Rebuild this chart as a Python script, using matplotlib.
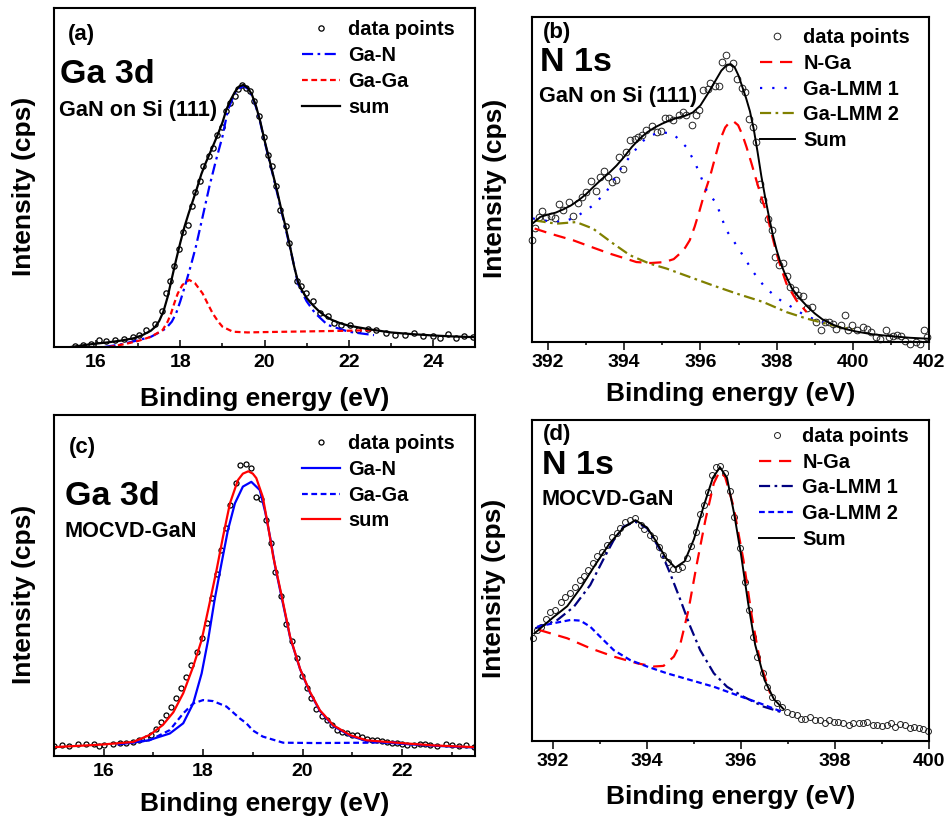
import matplotlib
matplotlib.use('Agg')
import matplotlib.pyplot as plt
from matplotlib.ticker import MultipleLocator

# intensity values are in arbitrary units (0-100 = height of each plot box)

# ---------------- (a) Ga 3d, GaN on Si (111) ----------------
a_pts_x = [15.49, 15.68, 15.88, 16.06, 16.24, 16.44, 16.67, 16.87, 17.03, 17.19, 17.39, 17.57, 17.65,
           17.76, 17.85, 17.96, 18.06, 18.18, 18.28, 18.36, 18.46, 18.55, 18.68, 18.77, 18.87, 19.0,
           19.09, 19.17, 19.29, 19.37, 19.47, 19.56, 19.66, 19.76, 19.88, 19.98, 20.08, 20.18, 20.28,
           20.38, 20.5, 20.59, 20.77, 20.87, 20.99, 21.15, 21.31, 21.5, 21.66, 21.82, 22.02, 22.22,
           22.46, 22.65, 22.89, 23.09, 23.33, 23.56, 23.76, 24.0, 24.16, 24.36, 24.56, 24.75, 24.95]
a_pts_y = [0.2, 0.5, 1.0, 2.2, 1.7, 2.0, 2.4, 3.0, 3.6, 5.1, 6.9, 10.5, 16.0,
           19.4, 24.0, 29.0, 34.0, 36.0, 41.5, 45.6, 48.9, 53.3, 56.2, 58.7, 62.6, 65.0,
           69.5, 72.0, 74.0, 76.0, 77.4, 76.4, 75.4, 72.5, 68.0, 62.0, 56.7, 53.3, 47.4,
           40.5, 35.6, 30.7, 19.4, 17.9, 16.0, 13.5, 10.0, 9.0, 7.0, 6.6, 6.6, 5.1,
           5.4, 4.9, 4.1, 3.6, 3.6, 4.1, 3.1, 3.3, 2.7, 3.8, 2.7, 3.3, 3.0]
a_gan_x = [16.2, 16.6, 17.0, 17.3, 17.5, 17.66, 17.8, 17.9, 18.0, 18.13, 18.25, 18.37, 18.53, 18.69,
           18.85, 19.0, 19.13, 19.29, 19.4, 19.5, 19.6, 19.7, 19.8, 19.9, 20.0, 20.2, 20.4, 20.6,
           20.8, 21.0, 21.2, 21.5, 22.0, 22.6]
a_gan_y = [0.0, 0.8, 2.0, 3.0, 4.3, 5.5, 7.5, 9.9, 13.5, 18.8, 24.0, 29.6, 38.4, 47.3,
           55.2, 62.0, 69.9, 74.8, 76.3, 77.0, 76.2, 74.2, 70.7, 66.2, 60.7, 50.7, 40.2, 29.7,
           18.5, 13.5, 10.0, 6.5, 4.5, 3.5]
a_gaga_x = [16.3, 16.7, 17.0, 17.3, 17.58, 17.7, 17.78, 17.86, 17.94, 18.05, 18.21, 18.35, 18.53,
            18.65, 18.77, 18.9, 19.0, 19.25, 19.6, 20.0, 20.5, 21.0, 21.5, 22.0, 22.65]
a_gaga_y = [0.0, 0.9, 1.8, 3.0, 5.0, 7.5, 9.9, 13.0, 15.8, 18.3, 19.8, 18.8, 15.8,
            12.8, 9.9, 7.5, 6.0, 4.5, 4.3, 4.4, 4.5, 4.6, 4.7, 4.8, 5.0]
a_sum_x = [15.4, 15.8, 16.0, 16.3, 16.6, 16.9, 17.1, 17.3, 17.4, 17.5, 17.6, 17.7, 17.8, 17.9, 18.0,
           18.1, 18.2, 18.3, 18.4, 18.5, 18.6, 18.7, 18.8, 18.9, 19.0, 19.1, 19.2, 19.3, 19.4, 19.5,
           19.6, 19.7, 19.8, 19.9, 20.0, 20.1, 20.2, 20.3, 20.4, 20.5, 20.6, 20.7, 20.8, 20.9, 21.0,
           21.1, 21.2, 21.3, 21.4, 21.6, 21.8, 22.0, 22.5, 23.0, 23.5, 24.0, 24.5, 25.0]
a_sum_y = [0.0, 0.7, 1.0, 1.4, 1.9, 2.6, 3.5, 4.8, 5.9, 7.7, 10.5, 14.8, 20.3, 25.7, 30.8,
           35.5, 39.5, 43.2, 47.0, 51.0, 54.2, 57.1, 60.0, 63.0, 66.2, 70.2, 73.0, 75.3, 76.9, 77.3,
           76.5, 74.5, 71.0, 66.5, 61.0, 56.0, 51.0, 46.0, 40.5, 35.5, 30.0, 24.0, 19.0, 16.5, 14.5,
           13.0, 11.7, 10.5, 9.5, 8.0, 7.0, 6.3, 5.2, 4.3, 3.8, 3.4, 3.1, 2.9]

# ---------------- (b) N 1s, GaN on Si (111) ----------------
b_pts_x = [391.58, 391.65, 391.76, 391.85, 391.96, 392.07, 392.18, 392.28, 392.39, 392.55, 392.66,
           392.79, 392.9, 393.0, 393.14, 393.27, 393.36, 393.46, 393.58, 393.69, 393.78, 393.87,
           393.97, 394.04, 394.16, 394.28, 394.36, 394.48, 394.58, 394.74, 394.85, 394.96, 395.06,
           395.18, 395.28, 395.44, 395.55, 395.63, 395.77, 395.88, 395.97, 396.07, 396.19, 396.25,
           396.38, 396.49, 396.58, 396.67, 396.76, 396.86, 396.95, 397.08, 397.17, 397.28, 397.37,
           397.46, 397.56, 397.65, 397.78, 397.87, 397.95, 398.07, 398.16, 398.26, 398.35, 398.48,
           398.57, 398.68, 398.79, 398.92, 399.03, 399.16, 399.27, 399.38, 399.47, 399.57, 399.68,
           399.79, 399.88, 399.99, 400.1, 400.26, 400.36, 400.49, 400.61, 400.71, 400.87, 400.96,
           401.06, 401.15, 401.26, 401.37, 401.5, 401.66, 401.76, 401.87, 401.94]
b_pts_y = [31.5, 35.0, 38.5, 40.2, 38.5, 38.7, 38.0, 42.4, 40.7, 43.0, 38.7,
           42.8, 44.6, 46.2, 49.4, 46.4, 50.8, 52.6, 50.8, 49.2, 49.7, 56.9,
           53.3, 58.5, 62.3, 62.6, 63.1, 63.6, 65.1, 66.4, 64.6, 64.9, 69.0,
           69.0, 68.2, 69.7, 70.8, 69.7, 66.7, 69.7, 71.3, 77.4, 77.9, 79.7,
           78.7, 78.7, 86.2, 88.2, 84.3, 85.8, 81.0, 78.3, 76.9, 68.7, 66.0,
           61.5, 48.5, 43.8, 37.9, 34.4, 26.2, 23.6, 24.3, 20.2, 16.9, 15.9,
           14.4, 14.1, 10.6, 10.8, 6.2, 3.6, 6.2, 6.2, 5.4, 4.1, 5.1,
           8.2, 3.8, 5.1, 3.6, 4.6, 4.1, 3.1, 1.5, 1.0, 3.6, 1.5,
           1.7, 2.1, 1.7, 0.3, -0.5, 0.0, -0.5, 3.6, 1.5]
b_nga_x = [391.65, 392.1, 392.66, 393.1, 393.62, 394.0, 394.32, 394.7, 395.06, 395.3, 395.46, 395.6,
           395.72, 395.85, 395.98, 396.1, 396.25, 396.38, 396.51, 396.65, 396.77, 396.88, 396.99,
           397.1, 397.21, 397.34, 397.47, 397.6, 397.74, 397.87, 398.0, 398.13, 398.26, 398.52, 398.79]
b_nga_y = [34.9, 33.2, 31.3, 29.4, 27.2, 25.8, 24.6, 24.3, 24.6, 25.5, 27.2, 29.0,
           31.3, 35.5, 40.5, 45.5, 50.8, 56.5, 62.0, 66.0, 67.7, 67.8, 66.7,
           63.8, 60.0, 55.0, 49.7, 44.6, 39.5, 33.3, 27.2, 22.3, 17.9, 12.8, 9.2]
b_lmm1_x = [391.6, 392.0, 392.39, 392.74, 393.18, 393.53, 393.97, 394.32, 394.58, 394.93, 395.28,
            395.63, 395.85, 396.16, 396.42, 396.68, 396.95, 397.17, 397.39, 397.69, 398.04, 398.39,
            398.74, 399.05, 399.5, 400.0]
b_lmm1_y = [38.0, 37.2, 36.9, 38.5, 42.0, 46.2, 54.4, 59.5, 62.9, 64.6, 64.1,
            60.0, 55.4, 46.7, 42.6, 34.4, 29.7, 25.6, 21.5, 16.9, 13.3, 10.8,
            8.2, 6.7, 5.0, 3.8]
b_lmm2_x = [391.65, 392.22, 392.74, 393.18, 393.71, 394.15, 394.67, 395.11, 395.72, 396.33, 396.95,
            397.65, 398.26, 398.79, 399.31, 399.66, 400.0]
b_lmm2_y = [37.4, 36.4, 36.9, 34.9, 30.3, 26.7, 24.1, 22.6, 20.0, 17.4, 14.9,
            12.3, 9.2, 7.2, 5.6, 4.6, 3.9]
b_sum_x = [391.6, 391.8, 392.0, 392.2, 392.4, 392.6, 392.8, 393.0, 393.2, 393.4, 393.6, 393.8, 394.0,
           394.2, 394.4, 394.6, 394.8, 395.0, 395.2, 395.4, 395.6, 395.8, 396.0, 396.2, 396.4, 396.55,
           396.7, 396.8, 396.9, 397.0, 397.1, 397.2, 397.3, 397.4, 397.5, 397.6, 397.7, 397.8, 397.9,
           398.0, 398.1, 398.2, 398.4, 398.6, 398.8, 399.0, 399.2, 399.5, 399.8, 400.1, 400.5, 401.0,
           401.5, 402.0]
b_sum_y = [36.5, 38.5, 39.2, 39.8, 40.8, 42.0, 43.6, 45.5, 47.8, 50.0, 52.0, 54.3, 57.0,
           60.0, 62.5, 64.5, 66.0, 67.2, 68.2, 69.0, 69.6, 70.6, 72.8, 76.5, 80.5, 83.5,
           85.3, 85.5, 84.5, 82.0, 78.5, 75.0, 71.0, 65.5, 58.5, 51.0, 44.5, 38.5, 33.0,
           28.3, 24.5, 21.5, 16.5, 13.5, 11.0, 8.8, 7.0, 5.2, 4.0, 3.2, 2.4, 1.8,
           1.3, 1.0]

# ---------------- (c) Ga 3d, MOCVD-GaN ----------------
c_pts_x = [15.0, 15.17, 15.31, 15.48, 15.64, 15.81, 15.91, 16.01, 16.18, 16.32, 16.45, 16.59, 16.72,
           16.85, 16.96, 17.06, 17.16, 17.26, 17.36, 17.46, 17.56, 17.65, 17.76, 17.87, 17.97, 18.07,
           18.17, 18.27, 18.35, 18.46, 18.55, 18.67, 18.74, 18.87, 18.97, 19.07, 19.16, 19.26, 19.36,
           19.44, 19.56, 19.66, 19.78, 19.88, 19.98, 20.08, 20.18, 20.28, 20.39, 20.49, 20.59, 20.69,
           20.79, 20.89, 20.99, 21.09, 21.19, 21.29, 21.39, 21.5, 21.6, 21.7, 21.8, 21.9, 22.0, 22.1,
           22.24, 22.37, 22.47, 22.57, 22.71, 22.88, 23.01, 23.14, 23.28, 23.45]
c_pts_y = [2.8, 3.1, 3.0, 3.6, 3.6, 3.4, 2.8, 3.3, 3.6, 3.8, 3.9, 4.2, 4.8,
           5.3, 6.1, 8.0, 10.1, 12.0, 14.5, 16.9, 19.8, 23.1, 26.7, 30.6, 34.6, 38.9,
           46.2, 53.4, 60.4, 67.0, 73.6, 80.0, 85.3, 85.6, 84.4, 76.0, 75.5, 69.2, 62.5,
           54.0, 46.9, 38.8, 33.7, 28.6, 23.4, 19.8, 17.1, 13.9, 11.6, 10.5, 9.2, 7.7,
           7.0, 6.8, 6.1, 6.1, 5.6, 5.1, 4.8, 4.6, 4.3, 4.1, 3.8, 3.9, 3.6, 3.3,
           3.1, 3.4, 3.6, 3.1, 2.8, 3.6, 3.1, 2.8, 3.1, 2.6]
c_gan_x = [16.3, 16.9, 17.33, 17.6, 17.8, 17.97, 18.1, 18.23, 18.37, 18.5, 18.64, 18.8, 18.97,
           19.14, 19.25, 19.35, 19.45, 19.58, 19.75, 19.95, 20.15, 20.35, 20.62, 20.96, 21.29,
           21.97, 22.64, 23.45]
c_gan_y = [3.4, 4.6, 6.6, 9.6, 15.4, 24.2, 34.0, 45.7, 56.5, 66.3, 74.1, 79.0, 80.4,
           78.0, 71.5, 64.0, 55.5, 46.5, 34.8, 25.5, 18.6, 13.2, 8.8, 5.9, 4.4,
           3.6, 3.0, 2.5]
c_gaga_x = [16.52, 16.92, 17.33, 17.6, 17.8, 18.0, 18.2, 18.47, 18.74, 18.87, 19.0, 19.2, 19.61,
            20.28, 21.29, 21.97]
c_gaga_y = [3.8, 4.6, 7.6, 12.5, 15.4, 16.4, 16.1, 14.5, 11.0, 9.6, 7.5, 5.7, 3.9,
            3.8, 3.9, 4.1]
c_sum_x = [15.0, 15.91, 16.59, 16.93, 17.19, 17.4, 17.6, 17.8, 17.97, 18.13, 18.27, 18.4, 18.54,
           18.7, 18.8, 18.91, 19.0, 19.07, 19.2, 19.3, 19.41, 19.58, 19.75, 19.95, 20.15, 20.35,
           20.62, 20.96, 21.29, 21.97, 22.64, 23.45]
c_sum_y = [2.6, 3.3, 4.1, 6.2, 9.1, 12.8, 18.4, 26.2, 34.0, 44.8, 54.5, 64.3, 74.1,
           80.9, 82.8, 83.5, 82.8, 81.5, 76.0, 68.0, 58.5, 47.0, 35.0, 25.6, 18.8, 13.4,
           9.0, 6.1, 4.6, 3.8, 3.1, 2.6]

# ---------------- (d) N 1s, MOCVD-GaN ----------------
d_pts_x = [391.57, 391.65, 391.75, 391.84, 391.94, 392.05, 392.16, 392.25, 392.35, 392.46, 392.57,
           392.65, 392.74, 392.84, 392.94, 393.04, 393.15, 393.25, 393.35, 393.43, 393.54, 393.64,
           393.75, 393.86, 393.94, 394.06, 394.15, 394.25, 394.34, 394.45, 394.55, 394.65, 394.74,
           394.85, 394.94, 395.05, 395.13, 395.22, 395.3, 395.39, 395.47, 395.56, 395.65, 395.76,
           395.86, 395.97, 396.08, 396.16, 396.25, 396.34, 396.46, 396.55, 396.66, 396.76, 396.87,
           396.98, 397.08, 397.19, 397.27, 397.36, 397.47, 397.58, 397.68, 397.79, 397.88, 397.98,
           398.07, 398.18, 398.29, 398.39, 398.5, 398.59, 398.69, 398.8, 398.89, 398.99, 399.1,
           399.19, 399.28, 399.38, 399.49, 399.6, 399.68, 399.79, 399.88, 399.97]
d_pts_y = [32.0, 34.6, 35.6, 37.9, 40.3, 40.8, 43.4, 45.0, 46.0, 48.1, 50.2,
           51.4, 53.3, 55.3, 57.7, 59.0, 61.1, 63.7, 64.9, 66.3, 68.3, 68.8,
           69.4, 67.3, 66.0, 64.2, 63.1, 60.5, 57.9, 55.9, 53.5, 53.5, 54.3,
           56.9, 60.7, 65.2, 70.7, 73.5, 77.7, 82.9, 85.3, 85.7, 83.4, 78.0,
           69.9, 60.0, 49.6, 40.8, 32.5, 26.3, 21.1, 16.9, 13.8, 11.7, 10.7,
           9.1, 8.4, 8.1, 6.7, 6.7, 7.6, 6.5, 6.5, 5.7, 6.5, 6.0,
           6.0, 5.7, 5.0, 5.5, 5.5, 5.5, 6.0, 5.0, 5.0, 4.7, 5.0,
           5.5, 4.5, 5.3, 5.0, 4.2, 4.5, 4.2, 3.6, 3.1]
d_nga_x = [391.7, 392.3, 392.79, 393.29, 393.79, 394.14, 394.35, 394.57, 394.71, 394.88, 395.06,
           395.24, 395.42, 395.54, 395.66, 395.84, 396.05, 396.23, 396.41, 396.62]
d_nga_y = [34.6, 32.0, 28.9, 26.3, 24.2, 23.2, 23.4, 26.3, 30.4, 40.8, 55.3,
           68.8, 80.3, 83.9, 82.3, 73.0, 56.4, 38.7, 24.2, 14.8]
d_lmm1_x = [391.62, 392.09, 392.44, 392.79, 393.08, 393.29, 393.5, 393.75, 394.0, 394.28, 394.49,
            394.71, 394.92, 395.13, 395.42, 395.7, 396.05, 396.48, 396.83]
d_lmm1_y = [35.1, 37.7, 41.8, 48.6, 56.9, 62.6, 66.8, 68.3, 66.3, 59.5, 52.2,
            43.9, 35.6, 28.3, 21.1, 16.9, 13.8, 10.7, 9.1]
d_lmm2_x = [391.66, 392.01, 392.37, 392.58, 392.79, 393.0, 393.29, 393.64, 394.0, 394.42, 394.92,
            395.42, 395.91, 396.41, 396.87]
d_lmm2_y = [35.6, 36.7, 37.7, 37.5, 35.6, 32.5, 28.3, 25.2, 23.2, 21.1, 19.0,
            16.9, 14.3, 11.7, 9.1]
d_sum_x = [391.6, 391.8, 392.0, 392.3, 392.6, 392.9, 393.2, 393.5, 393.75, 394.0, 394.2, 394.4,
           394.6, 394.8, 395.0, 395.2, 395.4, 395.55, 395.7, 395.85, 396.0, 396.15, 396.3, 396.5,
           396.7, 396.9]
d_sum_y = [33.5, 36.0, 38.5, 42.0, 48.0, 55.0, 61.5, 66.5, 68.8, 66.5, 62.0, 57.0,
           54.0, 56.0, 63.0, 73.0, 82.0, 85.3, 82.0, 71.0, 58.0, 43.0, 30.0, 19.0,
           13.0, 10.0]

plt.rcParams['font.family'] = ['Liberation Sans', 'DejaVu Sans']
plt.rcParams['font.weight'] = 'bold'
plt.rcParams['axes.labelweight'] = 'bold'

W, H = 947, 822
fig = plt.figure(figsize=(W / 100, H / 100), dpi=100)


def make_axes(l, r, t, b):
  return fig.add_axes([l / W, 1 - b / H, (r - l) / W, (b - t) / H])


def style(ax, xlim, tickdir, xlab_y, ylab_x, ylab_y):
  ax.set_xlim(*xlim)
  ax.set_ylim(0, 100)
  ax.set_yticks([])
  ax.xaxis.set_major_locator(MultipleLocator(2))
  ax.xaxis.set_minor_locator(MultipleLocator(1))
  for s in ax.spines.values():
    s.set_linewidth(1.5)
  if tickdir == 'in':
    ax.tick_params(axis='x', which='major', direction='in', length=5, width=1.1, pad=5, labelsize=14)
    ax.tick_params(axis='x', which='minor', direction='in', length=3, width=1.1)
  else:
    ax.tick_params(axis='x', which='major', direction='out', length=6, width=1.1, pad=2.5, labelsize=14)
    ax.tick_params(axis='x', which='minor', direction='out', length=2.5, width=1.1)
  ax.set_xlabel('Binding energy (eV)', fontsize=19)
  ax.xaxis.set_label_coords(0.5, xlab_y)
  ax.set_ylabel('Intensity (cps)', fontsize=19)
  ax.yaxis.set_label_coords(ylab_x, ylab_y)


def legend(ax, x, y, hl):
  ax.legend(loc='upper left', bbox_to_anchor=(x, y), frameon=False, fontsize=14.4, numpoints=1,
            handlelength=hl, handletextpad=0.42, labelspacing=0.34, borderpad=0, borderaxespad=0)


# ---- (a)
ax = make_axes(54, 475, 8, 347)
ax.plot(a_pts_x, a_pts_y, 'o', ls='none', ms=3.8, mfc='none', mec='black', mew=0.9, label='data points')
ax.plot(a_gan_x, a_gan_y, color='#0000ff', lw=1.6, ls=(0, (5, 2, 1.2, 2)), label='Ga-N')
ax.plot(a_gaga_x, a_gaga_y, color='#ff0000', lw=1.6, ls=(0, (2.6, 1.6)), label='Ga-Ga')
ax.plot(a_sum_x, a_sum_y, color='black', lw=1.6, label='sum')
style(ax, (15, 25), 'in', -0.118, -0.043, 0.475)
legend(ax, 0.589, 0.964, 1.9)
ax.text(0.033, 0.923, '(a)', transform=ax.transAxes, fontsize=16, va='center')
ax.text(0.014, 0.779, 'Ga 3d', transform=ax.transAxes, fontsize=24.5, va='baseline')
ax.text(0.012, 0.681, 'GaN on Si (111)', transform=ax.transAxes, fontsize=15.6, va='baseline')

# ---- (b)
ax = make_axes(532, 929, 17, 342)
ax.plot(b_pts_x, b_pts_y, 'o', ls='none', ms=4.8, mfc='none', mec='#222222', mew=0.7,
        label='data points', clip_on=False)
ax.plot(b_nga_x, b_nga_y, color='#ff0000', lw=1.6, ls=(0, (5.5, 3.5)), label='N-Ga')
ax.plot(b_lmm1_x, b_lmm1_y, color='#0000ff', lw=1.6, ls=(0, (1, 4.5)), label='Ga-LMM 1')
ax.plot(b_lmm2_x, b_lmm2_y, color='#808000', lw=1.6, ls=(0, (5, 2, 1.2, 2)), label='Ga-LMM 2')
ax.plot(b_sum_x, b_sum_y, color='black', lw=1.4, label='Sum')
style(ax, (391.58, 402), 'out', -0.123, -0.063, 0.474)
legend(ax, 0.574, 0.966, 1.75)
ax.text(0.028, 0.952, '(b)', transform=ax.transAxes, fontsize=16, va='center')
ax.text(0.02, 0.834, 'N 1s', transform=ax.transAxes, fontsize=24.5, va='baseline')
ax.text(0.018, 0.738, 'GaN on Si (111)', transform=ax.transAxes, fontsize=15.6, va='baseline')

# ---- (c)
ax = make_axes(54, 475, 415, 756)
ax.plot(c_pts_x, c_pts_y, 'o', ls='none', ms=3.6, mfc='none', mec='black', mew=0.9, label='data points')
ax.plot(c_gan_x, c_gan_y, color='#0000ff', lw=1.6, label='Ga-N')
ax.plot(c_gaga_x, c_gaga_y, color='#0000ff', lw=1.6, ls=(0, (2.6, 1.6)), label='Ga-Ga')
ax.plot(c_sum_x, c_sum_y, color='#ff0000', lw=1.6, label='sum')
style(ax, (15, 23.47), 'in', -0.106, -0.043, 0.475)
legend(ax, 0.589, 0.944, 1.9)
ax.text(0.036, 0.906, '(c)', transform=ax.transAxes, fontsize=16, va='center')
ax.text(0.026, 0.736, 'Ga 3d', transform=ax.transAxes, fontsize=24.5, va='baseline')
ax.text(0.026, 0.642, 'MOCVD-GaN', transform=ax.transAxes, fontsize=15.6, va='baseline')

# ---- (d)
ax = make_axes(532, 929, 420, 741)
ax.plot(d_pts_x, d_pts_y, 'o', ls='none', ms=4.3, mfc='none', mec='#222222', mew=0.7,
        label='data points', clip_on=False)
ax.plot(d_nga_x, d_nga_y, color='#ff0000', lw=1.6, ls=(0, (5.5, 3.5)), label='N-Ga')
ax.plot(d_lmm1_x, d_lmm1_y, color='#000080', lw=1.6, ls=(0, (5, 2, 1.2, 2)), label='Ga-LMM 1')
ax.plot(d_lmm2_x, d_lmm2_y, color='#0000ff', lw=1.6, ls=(0, (2.6, 1.6)), label='Ga-LMM 2')
ax.plot(d_sum_x, d_sum_y, color='black', lw=1.4, label='Sum')
style(ax, (391.55, 400), 'out', -0.137, -0.065, 0.477)
legend(ax, 0.572, 0.979, 1.75)
ax.text(0.028, 0.956, '(d)', transform=ax.transAxes, fontsize=16, va='center')
ax.text(0.025, 0.832, 'N 1s', transform=ax.transAxes, fontsize=24.5, va='baseline')
ax.text(0.025, 0.735, 'MOCVD-GaN', transform=ax.transAxes, fontsize=15.6, va='baseline')

fig.savefig('out.png', dpi=100)
